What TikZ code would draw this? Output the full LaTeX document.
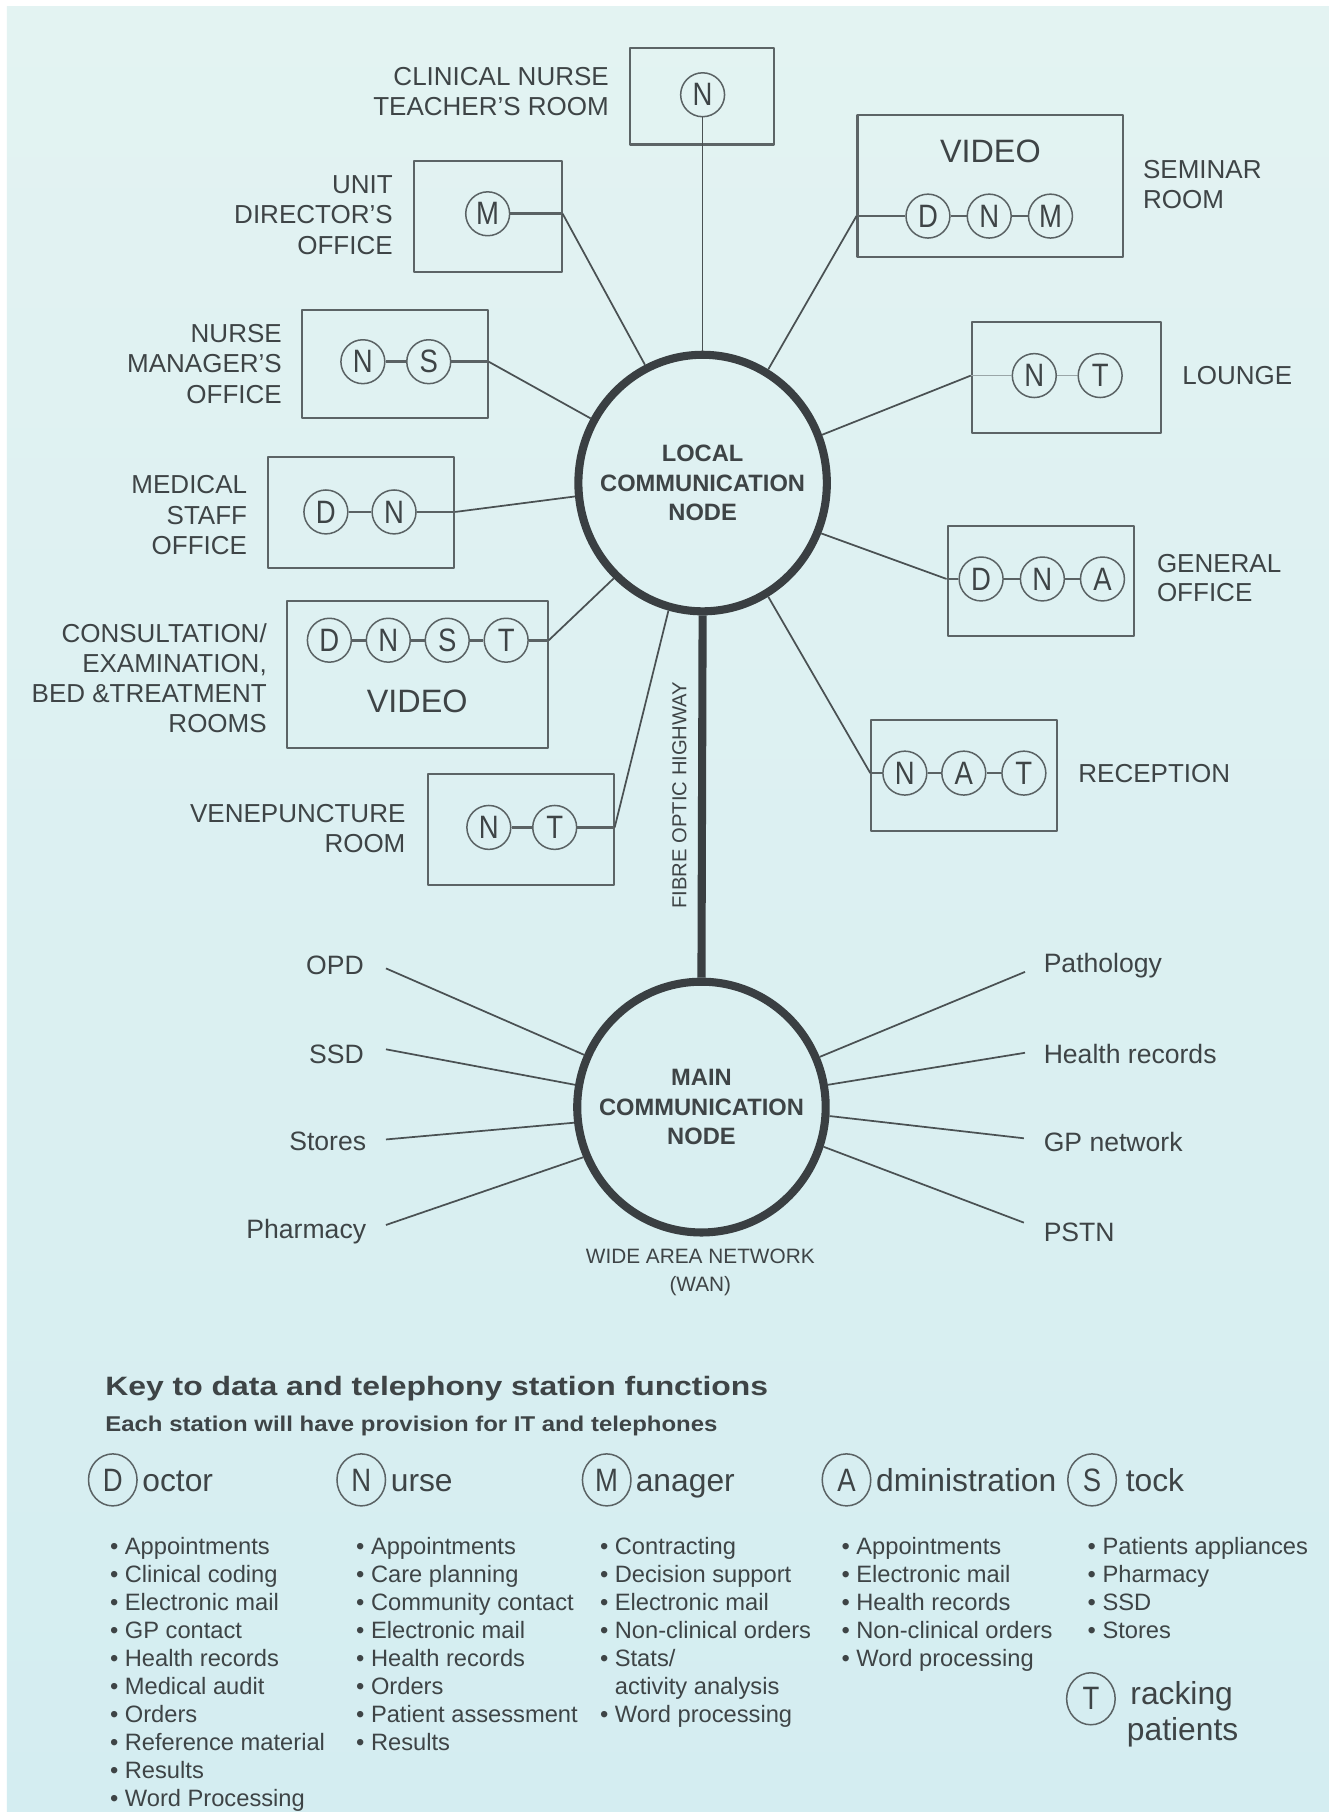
\documentclass[tikz,border=0pt]{standalone}
\usepackage{fontspec}
\setmainfont{Liberation Sans}
\newfontfamily\stnfam{Liberation Sans}[FakeStretch=0.85]
\newfontfamily\keyfam{Liberation Sans}[FakeStretch=1.2]
\newfontfamily\subfam{Liberation Sans}[FakeStretch=1.12]
\usetikzlibrary{shapes.geometric}
\definecolor{bgtop}{HTML}{E3F3F2}
\definecolor{bgbot}{HTML}{D4EDF1}
\definecolor{ink}{HTML}{3E4446}
\definecolor{linec}{HTML}{4A5153}
\definecolor{boxc}{HTML}{5C6466}
\definecolor{stc}{HTML}{5A6264}
\definecolor{hubc}{HTML}{3A3F42}
\definecolor{faint}{HTML}{9AA6A8}
\newcommand\labfont{\fontsize{22.5}{26.5}\selectfont}
\newcommand\spkfont{\fontsize{23}{27}\selectfont}
\newcommand\hubfont{\bfseries\fontsize{20.5}{25.5}\selectfont}
\newcommand\stnfont{\stnfam\fontsize{28}{30}\selectfont}
\newcommand\vidfont{\fontsize{28}{30}\selectfont}
\newcommand\itemfont{\fontsize{20.5}{24.2}\selectfont}
\newcommand\keywordfont{\fontsize{27.5}{30}\selectfont}
\tikzset{
  room/.style={draw=boxc, line width=1.8pt, inner sep=0pt},
  stn/.style={circle, draw=stc, line width=1.3pt, minimum size=38pt, inner sep=0pt, font=\stnfont, text=ink},
  keyc/.style={ellipse, draw=stc, line width=1.3pt, minimum width=42pt, minimum height=45pt, inner sep=0pt, font=\stnfont, text=ink},
  lab/.style={font=\labfont, text=ink, align=right, anchor=east, inner sep=0pt},
  labr/.style={font=\labfont, text=ink, align=left, anchor=west, inner sep=0pt},
  spk/.style={font=\spkfont, text=ink, inner sep=0pt},
  wire/.style={draw=linec, line width=1.5pt},
  link/.style={draw=stc, line width=2.4pt},
  flink/.style={draw=faint, line width=1.2pt},
  hub/.style={ellipse, draw=hubc, line width=7pt, inner sep=0pt},
  hubtext/.style={align=center, font=\hubfont, text=ink, inner sep=0pt},
  item/.style={anchor=base west, inner sep=0pt, font=\itemfont, text=ink},
  keyw/.style={anchor=base west, inner sep=0pt, font=\keywordfont, text=ink},
  vid/.style={font=\vidfont, text=ink, inner sep=0pt}
}
\begin{document}
\begin{tikzpicture}[x=1pt,y=-1pt,line join=round]
\useasboundingbox (0,0) rectangle (1150,1568);
\fill[white] (0,0) rectangle (1150,1568);
\shade[top color=bgtop, bottom color=bgbot] (6,6) rectangle (1150,1568);

% hubs
\node[hub, minimum width=215pt, minimum height=222pt] (hubL) at (608,418) {};
\node[hubtext] (hubLt) at (hubL.center) {LOCAL\\COMMUNICATION\\NODE};
\node[hub, minimum width=215pt, minimum height=217pt] (hubM) at (607,958) {};
\node[hubtext] (hubMt) at (hubM.center) {MAIN\\COMMUNICATION\\NODE};
\draw[draw=hubc, line width=7pt] (hubL.south) -- (hubM.north);
\node[rotate=90, font=\fontsize{17.5}{20}\selectfont, text=ink, inner sep=0pt] (fibre) at (588,688) {FIBRE OPTIC HIGHWAY};

% rooms
\node[room, minimum width=125pt, minimum height=83.5pt] (cntr) at (607.5,83.3) {};
\node[room, minimum width=128pt, minimum height=96pt] (udo) at (422,187) {};
\node[room, minimum width=230pt, minimum height=123.5pt] (sem) at (857,161) {};
\node[room, minimum width=161pt, minimum height=94pt] (nmo) at (341.5,315) {};
\node[room, minimum width=164pt, minimum height=96pt] (lou) at (923,327) {};
\node[room, minimum width=161pt, minimum height=96pt] (mso) at (312.5,443.5) {};
\node[room, minimum width=161pt, minimum height=95pt] (gen) at (900.5,502.5) {};
\node[room, minimum width=226pt, minimum height=127pt] (con) at (361,583.5) {};
\node[room, minimum width=161pt, minimum height=96pt] (ven) at (450.5,718) {};
\node[room, minimum width=161pt, minimum height=96pt] (rec) at (834.5,671) {};

% stations
\node[stn] (cntrN) at (608,82) {N};
\node[stn] (udoM) at (422,185) {M};
\node[stn] (semD) at (803,187) {D};
\node[stn] (semN) at (856,187) {N};
\node[stn] (semM) at (909,187) {M};
\node[vid] (semV) at (857,131) {VIDEO};
\node[stn] (nmoN) at (314,313) {N};
\node[stn] (nmoS) at (371,313) {S};
\node[stn] (louN) at (895,325) {N};
\node[stn] (louT) at (952,325) {T};
\node[stn] (msoD) at (282,443) {D};
\node[stn] (msoN) at (341,443) {N};
\node[stn] (genD) at (849,501) {D};
\node[stn] (genN) at (902,501) {N};
\node[stn] (genA) at (954,501) {A};
\node[stn] (conD) at (285,554) {D};
\node[stn] (conN) at (336,554) {N};
\node[stn] (conS) at (387,554) {S};
\node[stn] (conT) at (438,554) {T};
\node[vid] (conV) at (361,607) {VIDEO};
\node[stn] (venN) at (423,716) {N};
\node[stn] (venT) at (480,716) {T};
\node[stn] (recN) at (783,669) {N};
\node[stn] (recA) at (834,669) {A};
\node[stn] (recT) at (886,669) {T};

% links inside rooms
\draw[link] (semD) -- (semN);
\draw[link] (semN) -- (semM);
\draw[link] (nmoN) -- (nmoS);
\draw[flink] (louN) -- (louT);
\draw[link] (msoD) -- (msoN);
\draw[link] (genD) -- (genN);
\draw[link] (genN) -- (genA);
\draw[link] (conD) -- (conN);
\draw[link] (conN) -- (conS);
\draw[link] (conS) -- (conT);
\draw[link] (venN) -- (venT);
\draw[link] (recN) -- (recA);
\draw[link] (recA) -- (recT);

% edge points
\coordinate (udoE) at (udo.east |- udoM.center);
\coordinate (semE) at (sem.west |- semD.center);
\coordinate (nmoE) at (nmo.east |- nmoS.center);
\coordinate (louE) at (lou.west |- louN.center);
\coordinate (msoE) at (mso.east |- msoN.center);
\coordinate (genE) at (gen.west |- genD.center);
\coordinate (conE) at (con.east |- conT.center);
\coordinate (venE) at (ven.east |- venT.center);
\coordinate (recE) at (rec.west |- recN.center);

\draw[link] (udoM) -- (udoE);
\draw[link] (semD) -- (semE);
\draw[link] (nmoS) -- (nmoE);
\draw[flink] (louN) -- (louE);
\draw[link] (msoN) -- (msoE);
\draw[link] (genD) -- (genE);
\draw[link] (conT) -- (conE);
\draw[link] (venT) -- (venE);
\draw[link] (recN) -- (recE);

% connectors to local node
\draw[wire] (cntrN) -- (hubL.north);
\draw[wire] (udoE) -- (hubL.116);
\draw[wire] (semE) -- (hubL.60);
\draw[wire] (nmoE) -- (hubL.150);
\draw[wire] (louE) -- (hubL.22);
\draw[wire] (msoE) -- (hubL.186);
\draw[wire] (genE) -- (hubL.-23);
\draw[wire] (conE) -- (hubL.227);
\draw[wire] (venE) -- (hubL.255);
\draw[wire] (recE) -- (hubL.300);

% room labels
\node[lab, font=\fontsize{22.5}{26}\selectfont] (cntrL) at (527,79) {CLINICAL NURSE\\TEACHER'S ROOM};
\node[lab] (udoL) at (340,186) {UNIT\\DIRECTOR'S\\OFFICE};
\node[lab] (nmoL) at (244,315) {NURSE\\MANAGER'S\\OFFICE};
\node[lab] (msoL) at (214,446) {MEDICAL\\STAFF\\OFFICE};
\node[lab, font=\fontsize{22.5}{26}\selectfont] (conL) at (231,587) {CONSULTATION/\\EXAMINATION,\\BED \&TREATMENT\\ROOMS};
\node[lab] (venL) at (351,717) {VENEPUNCTURE\\ROOM};
\node[labr, font=\fontsize{22.5}{26}\selectfont] (semL) at (989,160) {SEMINAR\\ROOM};
\node[labr] (louL) at (1023,325) {LOUNGE};
\node[labr, font=\fontsize{22.5}{25.5}\selectfont] (genL) at (1001,500) {GENERAL\\OFFICE};
\node[labr] (recL) at (933,669) {RECEPTION};

% main node spokes
\node[spk, anchor=east] (opd) at (315,835) {OPD};
\node[spk, anchor=east] (ssd) at (315,912) {SSD};
\node[spk, anchor=east] (sto) at (317,988) {Stores};
\node[spk, anchor=east] (pha) at (317,1066) {Pharmacy};
\node[spk, anchor=west] (pat) at (903,836) {Pathology};
\node[spk, anchor=west] (hea) at (903,912) {Health records};
\node[spk, anchor=west] (gpn) at (903,988) {GP network};
\node[spk, anchor=west] (pst) at (903,1066) {PSTN};
\coordinate (opdE) at (334,838);
\coordinate (ssdE) at (334,908);
\coordinate (stoE) at (334,986);
\coordinate (phaE) at (334,1060);
\coordinate (patE) at (887,841);
\coordinate (heaE) at (887,911);
\coordinate (gpnE) at (886,985);
\coordinate (pstE) at (886,1058);
\draw[wire] (opdE) -- (hubM.156);
\draw[wire] (ssdE) -- (hubM.170);
\draw[wire] (stoE) -- (hubM.187);
\draw[wire] (phaE) -- (hubM.203);
\draw[wire] (patE) -- (hubM.23);
\draw[wire] (heaE) -- (hubM.10);
\draw[wire] (gpnE) -- (hubM.-4);
\draw[wire] (pstE) -- (hubM.-18);
\node[font=\fontsize{18}{23.5}\selectfont, align=center, text=ink, inner sep=0pt] (wan) at (606,1101) {WIDE AREA NETWORK\\(WAN)};

% key
\node[anchor=base west, inner sep=0pt, text=ink, font=\keyfam\bfseries\fontsize{23}{26}\selectfont] (keyt) at (91,1208) {Key to data and telephony station functions};
\node[anchor=base west, inner sep=0pt, text=ink, font=\subfam\bfseries\fontsize{18.5}{22}\selectfont] (keys) at (91,1238.5) {Each station will have provision for IT and telephones};

\node[keyc] (kD) at (97.6,1280.6) {D};
\node[keyc] (kN) at (312.6,1280.6) {N};
\node[keyc] (kM) at (525,1280.6) {M};
\node[keyc] (kA) at (732.5,1280.6) {A};
\node[keyc] (kS) at (945,1280.6) {S};
\node[keyc] (kT) at (944,1470) {T};
\node[keyw] (kDw) at (123,1290.5) {octor};
\node[keyw] (kNw) at (338,1290.5) {urse};
\node[keyw] (kMw) at (550,1290.5) {anager};
\node[keyw] (kAw) at (758,1290.5) {dministration};
\node[keyw] (kSw) at (974,1290.5) {tock};
\node[keyw] (kTw) at (978,1475) {racking};
\node[keyw] (kTw2) at (975,1506) {patients};

\foreach \t [count=\i from 0] in {• Appointments, • Clinical coding, • Electronic mail, • GP contact, • Health records, • Medical audit, • Orders, • Reference material, • Results, • Word Processing}
  \node[item] (colD\i) at (95,{1345.5+24.15*\i}) {\t};
\foreach \t [count=\i from 0] in {• Appointments, • Care planning, • Community contact, • Electronic mail, • Health records, • Orders, • Patient assessment, • Results}
  \node[item] (colN\i) at (308,{1345.5+24.15*\i}) {\t};
\foreach \t [count=\i from 0] in {• Contracting, • Decision support, • Electronic mail, • Non-clinical orders, • Stats/, \phantom{•} activity analysis, • Word processing}
  \node[item] (colM\i) at (519,{1345.5+24.15*\i}) {\t};
\foreach \t [count=\i from 0] in {• Appointments, • Electronic mail, • Health records, • Non-clinical orders, • Word processing}
  \node[item] (colA\i) at (728,{1345.5+24.15*\i}) {\t};
\foreach \t [count=\i from 0] in {• Patients appliances, • Pharmacy, • SSD, • Stores}
  \node[item] (colS\i) at (941,{1345.5+24.15*\i}) {\t};
\end{tikzpicture}
\end{document}
